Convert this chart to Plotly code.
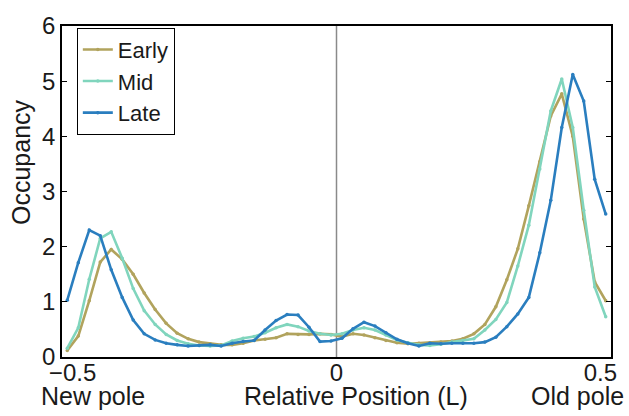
import numpy as np
import plotly.graph_objects as go

# Bin centres along the normalised cell length
position = np.linspace(-0.51, 0.51, 50)

early = [0.12, 0.38, 1.02, 1.72, 1.95, 1.77, 1.50, 1.16, 0.86, 0.61,
         0.43, 0.33, 0.27, 0.24, 0.22, 0.22, 0.25, 0.30, 0.32, 0.35,
         0.42, 0.41, 0.41, 0.42, 0.41, 0.37, 0.42, 0.40, 0.35, 0.30,
         0.26, 0.24, 0.25, 0.26, 0.27, 0.29, 0.33, 0.42, 0.59, 0.91,
         1.40, 1.96, 2.74, 3.54, 4.37, 4.77, 4.00, 2.50, 1.36, 1.02]

mid = [0.16, 0.53, 1.41, 2.15, 2.27, 1.79, 1.24, 0.84, 0.59, 0.41,
       0.30, 0.24, 0.21, 0.20, 0.21, 0.29, 0.34, 0.37, 0.44, 0.53,
       0.59, 0.55, 0.47, 0.42, 0.40, 0.42, 0.49, 0.53, 0.49, 0.40,
       0.31, 0.26, 0.22, 0.21, 0.23, 0.27, 0.30, 0.33, 0.49, 0.68,
       0.99, 1.65, 2.39, 3.41, 4.46, 5.04, 4.16, 2.66, 1.27, 0.73]

late = [1.03, 1.71, 2.30, 2.20, 1.58, 1.08, 0.67, 0.42, 0.31, 0.25,
        0.22, 0.20, 0.21, 0.22, 0.20, 0.25, 0.28, 0.30, 0.49, 0.66,
        0.77, 0.76, 0.54, 0.28, 0.29, 0.34, 0.51, 0.63, 0.56, 0.44,
        0.32, 0.25, 0.20, 0.25, 0.24, 0.25, 0.25, 0.25, 0.27, 0.36,
        0.55, 0.78, 1.08, 1.89, 2.84, 4.16, 5.12, 4.64, 3.22, 2.59]

series = [("Early", early, "#b1a35d"),
          ("Mid", mid, "#80d5bd"),
          ("Late", late, "#2a7ebf")]

x_ticks = [-0.5, 0, 0.5]
x_tick_text = ["\u22120.5", "0", "0.5"]
y_ticks = [0, 1, 2, 3, 4, 5, 6]

pole_labels = [(-0.461, "New pole"), (0.036, "Relative Position (L)"), (0.457, "Old pole")]

FONT = "Liberation Sans, Arial, Helvetica, sans-serif"
TEXT = "#1a1a1a"

fig = go.Figure()
for name, values, color in series:
    fig.add_trace(go.Scatter(
        x=position, y=values, name=name, mode="lines+markers",
        line=dict(color=color, width=2.6),
        marker=dict(color=color, size=3.5),
    ))

# Midcell reference line
fig.add_shape(type="line", xref="x", yref="paper", x0=0, x1=0, y0=0, y1=1,
              line=dict(color="#8a8a8a", width=1.5), layer="below")

# Axis captions
for xpos, label in pole_labels:
    fig.add_annotation(x=xpos, xref="x", y=-0.068, yref="paper",
                       text=label, showarrow=False, xanchor="center", yanchor="top",
                       font=dict(size=25, color=TEXT, family=FONT))
fig.add_annotation(x=-0.076, xref="paper", y=0.59, yref="paper", text="Occupancy",
                   textangle=-90, showarrow=False, xanchor="center", yanchor="middle",
                   font=dict(size=25, color=TEXT, family=FONT))

fig.update_layout(
    width=629, height=416,
    margin=dict(l=62, r=17, t=16, b=59),
    paper_bgcolor="white", plot_bgcolor="white",
    font=dict(family=FONT, color=TEXT),
    showlegend=True,
    legend=dict(x=0.027, y=0.995, xanchor="left", yanchor="top",
                bgcolor="white", bordercolor="black", borderwidth=1,
                font=dict(size=22), tracegroupgap=0),
)

fig.update_xaxes(range=[-0.52, 0.52], tickvals=x_ticks, ticktext=x_tick_text,
                 showgrid=False, zeroline=False, showline=True, linecolor="black",
                 linewidth=1.5, mirror=True, ticks="", tickfont=dict(size=24),
                 ticklabelstandoff=-7)
fig.update_yaxes(range=[0, 6], tickvals=y_ticks, showgrid=False, zeroline=False,
                 showline=True, linecolor="black", linewidth=1.5, mirror="ticks",
                 ticks="inside", ticklen=5, tickcolor="black",
                 tickfont=dict(size=24))

fig.write_html("out.html")
